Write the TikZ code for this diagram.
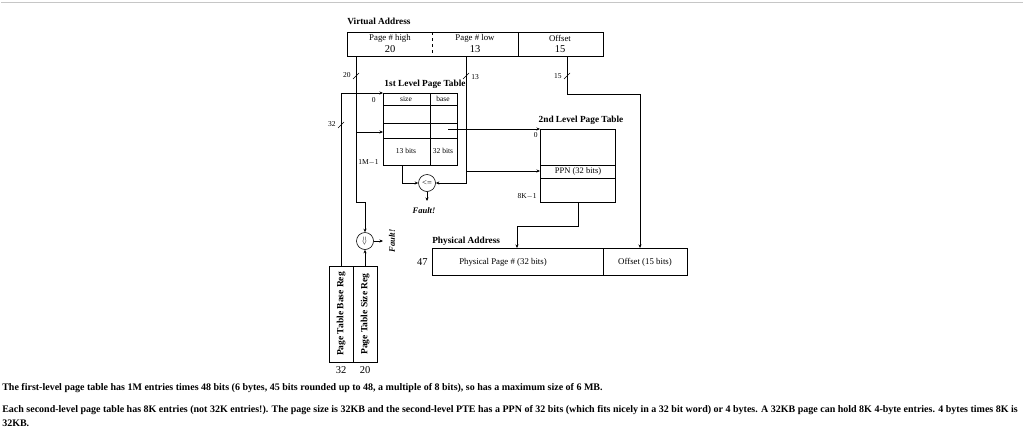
\documentclass[tikz,border=0pt]{standalone}
\usepackage{fontspec}
\setmainfont{Liberation Serif}
\usetikzlibrary{arrows.meta,calc}
\begin{document}
\begin{tikzpicture}[x=1pt,y=-1pt,line width=0.6pt,
  arr/.style={-{Stealth[length=3.5pt,width=3pt]}},
  ttl/.style={font=\fontsize{9.3}{10}\selectfont\bfseries,inner sep=0},
  boxtxt/.style={font=\fontsize{8.8}{9}\selectfont,inner sep=0},
  numtxt/.style={font=\fontsize{10.5}{11}\selectfont,inner sep=0},
  small/.style={font=\fontsize{7.5}{8}\selectfont,inner sep=0},
  para/.style={font=\fontsize{10}{12}\selectfont\bfseries,inner sep=0,anchor=west},
  cmp/.style={circle,draw,minimum size=17pt,inner sep=0,font=\fontsize{8.5}{9}\selectfont},
  reg/.style={font=\fontsize{9.5}{10}\selectfont\bfseries,inner sep=0,rotate=90},
  slash/.style={line width=0.5pt}]
\useasboundingbox (0,0) rectangle (1024,437);
\draw[gray!45,line width=1pt] (1,2) -- (1023,2);

% Virtual address
\node[ttl,anchor=west] (vat) at (347,21) {Virtual Address};
\draw (347,32) rectangle (603,56);
\draw[dashed] (432,32) -- (432,56);
\draw (518,32) -- (518,56);
\node[boxtxt] (vah) at (390,38) {Page \# high};
\node[numtxt] (vahn) at (390,49) {20};
\node[boxtxt] (val) at (475,38) {Page \# low};
\node[numtxt] (valn) at (475,49) {13};
\node[boxtxt] (vao) at (560,38) {Offset};
\node[numtxt] (vaon) at (560,49) {15};
\coordinate (vaH) at (356,56);
\coordinate (vaL) at (466,56);
\coordinate (vaO) at (567,56);

% 1st level table
\node[ttl] (t1t) at (425,84) {1st Level Page Table};
\draw (383,93) rectangle (457,165);
\foreach \yy in {105,123,138} \draw (383,\yy) -- (457,\yy);
\draw (430,93) -- (430,165);
\node[small] (ts) at (406,99) {size};
\node[small] (tb) at (443,99) {base};
\node[small] (t13) at (406,151) {13 bits};
\node[small] (t32) at (443,151) {32 bits};
\node[small,anchor=east] (t0) at (376,100) {0};
\node[small,anchor=east] (tm) at (379,162) {1M$-$1};
\coordinate (t1nw) at (383,93);
\coordinate (t1idx) at (383,132);
\coordinate (t1size) at (402,165);
\coordinate (t1base) at (448,129);

% 2nd level table
\node[ttl] (t2t) at (581,120) {2nd Level Page Table};
\draw (540,129) rectangle (615,202);
\draw (540,165) -- (615,165);
\draw (540,178) -- (615,178);
\node[font=\fontsize{8.5}{9}\selectfont,inner sep=0] (ppn) at (578,171.5) {PPN (32 bits)};
\node[small,anchor=east] (t20) at (538,135) {0};
\node[small,anchor=east] (t28) at (537,196) {8K$-$1};
\coordinate (t2nw) at (540,129);
\coordinate (t2ppn) at (540,171);
\coordinate (t2bot) at (578,202);

% comparators
\node[cmp] (c1) at (427,183) {<=};
\node[cmp] (c2) at (365,241) {\rotatebox{90}{<=}};
\coordinate (f1) at (427,201);
\coordinate (f2) at (383,241);
\node[font=\fontsize{8.5}{9}\selectfont\bfseries\itshape,inner sep=0] (fault1) at (424,211) {Fault!};
\node[font=\fontsize{8.5}{9}\selectfont\bfseries\itshape,inner sep=0,rotate=90] (fault2) at (392,241) {Fault!};

% registers
\draw (329,266) rectangle (353,362);
\draw (353,266) rectangle (377,362);
\node[reg] (rb) at (341,314) {Page Table Base Reg};
\node[reg] (rs) at (365,314) {Page Table Size Reg};
\node[numtxt] (r32) at (341,370) {32};
\node[numtxt] (r20) at (365,370) {20};
\coordinate (rbtop) at (341,266);
\coordinate (rstop) at (365,266);

% physical address
\node[ttl,anchor=west] (pat) at (432,241) {Physical Address};
\draw (432,248) rectangle (687,275);
\draw (603,248) -- (603,275);
\node[boxtxt] (ppg) at (503,262) {Physical Page \# (32 bits)};
\node[boxtxt] (pof) at (645,262) {Offset (15 bits)};
\node[numtxt,anchor=east] (p47) at (428,262) {47};
\coordinate (paP) at (517,248);
\coordinate (paO) at (640,248);

% connectors
\draw[arr] (rbtop) |- (t1nw);
\coordinate (jH) at (356,202);
\draw[arr] (vaH) -- (jH) -| (c2.north);
\coordinate (idx) at (356,132);
\draw[arr] (idx) -- (t1idx);
\draw[arr] (rstop) -- (c2.south);
\draw[arr] (c2.east) -- (f2);
\draw[arr] (t1size) |- (c1.west);
\draw[arr] (vaL) |- (c1.east);
\coordinate (jL) at (466,171);
\draw[arr] (jL) -- (t2ppn);
\draw[arr] (t1base) -- (t2nw);
\draw[arr] (c1.south) -- (f1);
\coordinate (j2) at (578,226);
\draw[arr] (t2bot) -- (j2) -| (paP);
\coordinate (jO) at (567,94);
\draw[arr] (vaO) -- (jO) -| (paO);

% slash marks and widths
\draw[slash] (353,79) -- (359,73);
\draw[slash] (463,79) -- (469,73);
\draw[slash] (564,79) -- (570,73);
\draw[slash] (338,128) -- (344,122);
\node[small,anchor=east] (w20) at (351,75) {20};
\node[small,anchor=west] (w13) at (471,77) {13};
\node[small,anchor=east] (w15) at (562,76) {15};
\node[small,anchor=east] (w32) at (336,124) {32};

% text
\node[para] (p1) at (2,388) {The first-level page table has 1M entries times 48 bits (6 bytes, 45 bits rounded up to 48, a multiple of 8 bits), so has a maximum size of 6 MB.};
\node[para] (p2) at (2,410) {Each second-level page table has 8K entries (not 32K entries!). The page size is 32KB and the second-level PTE has a PPN of 32 bits (which fits nicely in a 32 bit word) or 4 bytes. A 32KB page can hold 8K 4-byte entries. 4 bytes times 8K is};
\node[para] (p3) at (2,423) {32KB.};
\end{tikzpicture}
\end{document}
